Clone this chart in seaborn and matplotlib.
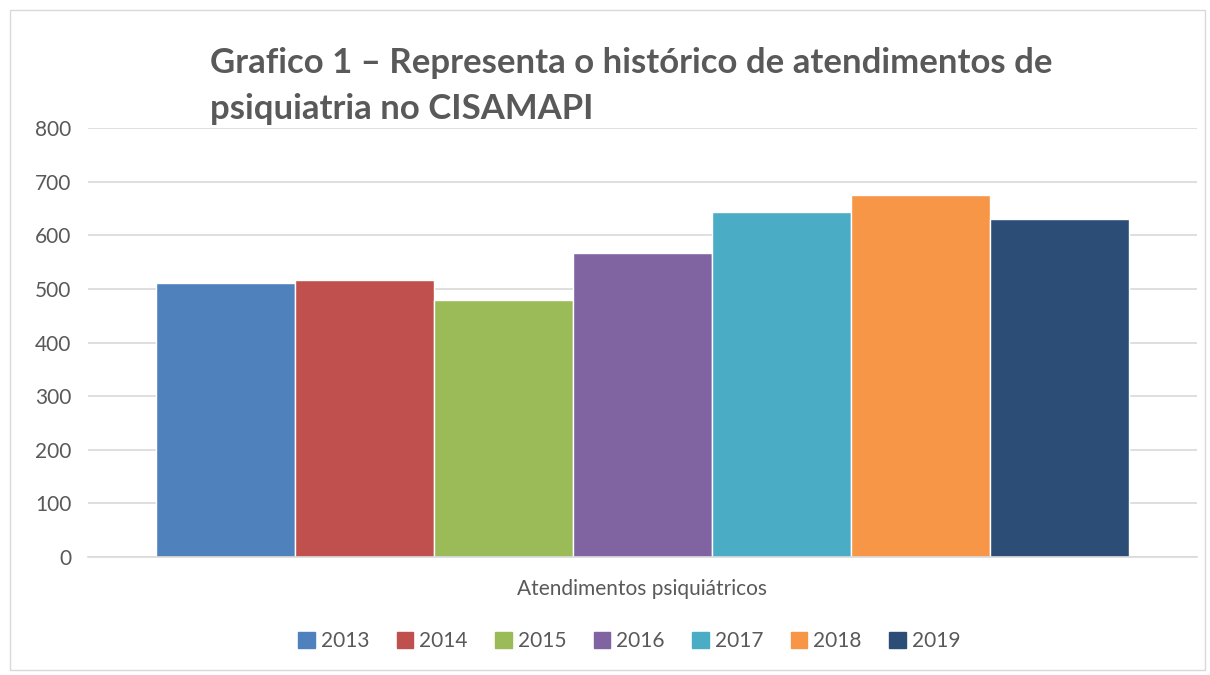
import numpy as np
import pandas as pd
import seaborn as sns
import matplotlib.pyplot as plt
from matplotlib.patches import Rectangle

# data
years = ['2013', '2014', '2015', '2016', '2017', '2018', '2019']
atendimentos = [512, 517, 480, 567, 643, 675, 630]
category = 'Atendimentos psiquiátricos'
colors = ['#4F81BD', '#C0504D', '#9BBB59', '#8064A2', '#4BACC6', '#F79646', '#2C4D75']

df = pd.DataFrame({'grupo': [category] * len(years), 'ano': years, 'valor': atendimentos})

sns.set_style('white')
plt.rcParams['font.family'] = ['Lato', 'DejaVu Sans']
txt = '#595959'

fig = plt.figure(figsize=(12.1, 6.75), dpi=100)
ax = fig.add_axes([0.0727, 0.175, 0.9165, 0.635])

sns.barplot(data=df, x='grupo', y='valor', hue='ano', palette=colors,
            width=0.877, saturation=1, ax=ax, legend=False)
ax.set_xlim(-0.5, 0.5)
ax.set_ylim(0, 800)
ax.set_yticks(range(0, 801, 100))
ax.yaxis.grid(True, color='#d9d9d9', linewidth=1.2)
ax.set_axisbelow(True)
for s in ['top', 'right', 'left']:
    ax.spines[s].set_visible(False)
ax.spines['bottom'].set_color('#d9d9d9')
ax.spines['bottom'].set_linewidth(1.2)
ax.tick_params(axis='y', length=0, colors=txt, labelsize=15, pad=12)
ax.tick_params(axis='x', length=0, colors=txt, labelsize=15, pad=16)
ax.set_xlabel('')
ax.set_ylabel('')

# title, left aligned over the plot
fig.text(0.1735, 0.873, 'Grafico 1 – Representa o histórico de atendimentos de\npsiquiatria no CISAMAPI',
         fontsize=25, fontweight='bold', color=txt, ha='left', va='center', linespacing=1.55)

# legend
handles = [Rectangle((0, 0), 1, 1, color=c) for c in colors]
fig.legend(handles, years, loc='center', bbox_to_anchor=(0.52, 0.05), ncol=7, frameon=False,
           fontsize=15, labelcolor=txt, handlelength=0.8, handleheight=0.8,
           handletextpad=0.3, columnspacing=1.3)

# light chart border
fig.patches.append(Rectangle((10 / 1210, 5 / 675), 1195 / 1210, 660 / 675, transform=fig.transFigure,
                             fill=False, edgecolor='#d9d9d9', linewidth=1))

fig.savefig('out.png', dpi=100)
